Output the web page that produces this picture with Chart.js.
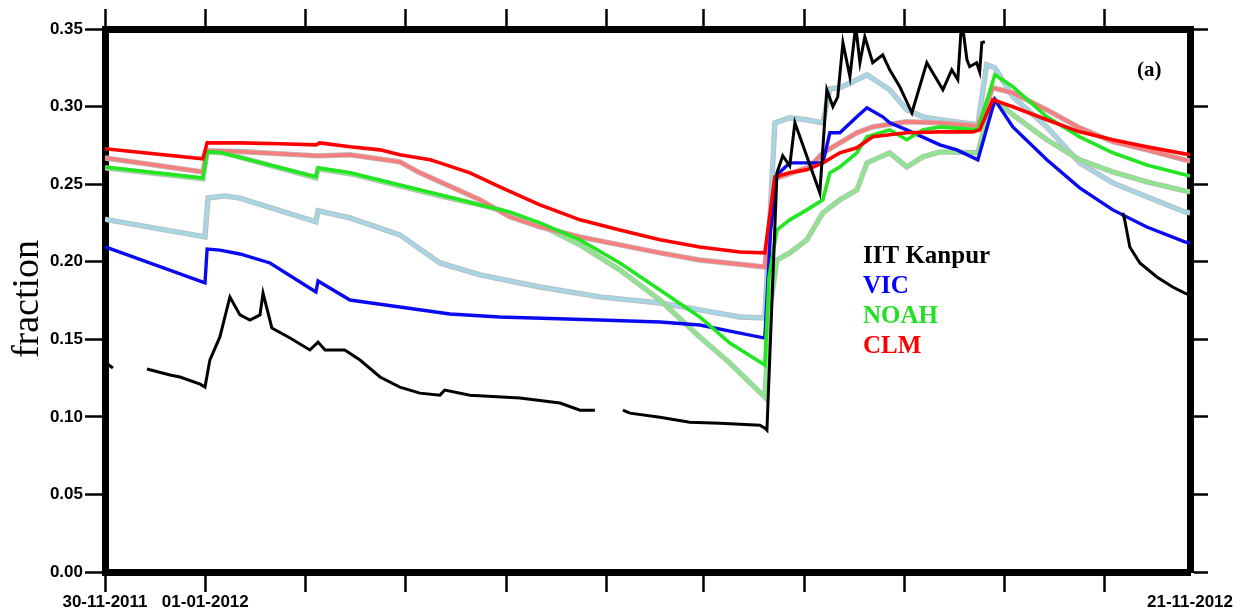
<!DOCTYPE html>
<html>
<head>
<meta charset="utf-8">
<script src="https://cdn.jsdelivr.net/npm/chart.js@4.4.1/dist/chart.umd.min.js"></script>
<style>
  html, body { margin: 0; padding: 0; background: #ffffff; }
  #wrap { width: 1249px; height: 609px; position: relative; }
</style>
</head>
<body>
<div id="wrap"><canvas id="c" width="1249" height="609"></canvas></div>
<script>
// ---- Data (x = days since 30-11-2011, y = soil moisture fraction) ----
const tickDays = [0, 33, 66, 99, 132, 165, 197, 230, 263, 296, 329, 357];
const tickLabels = { 0: '30-11-2011', 33: '01-01-2012', 357: '21-11-2012' };
const yTicks = [0, 0.05, 0.10, 0.15, 0.20, 0.25, 0.30, 0.35];

const obsDays = [0, 2.6, 8, 13.8, 21.4, 24.7, 31.3, 32.9, 34.5, 37.8, 41.1, 44.4, 47.7, 51, 52, 54.9, 60.9, 67.4, 70.1, 72.4, 78.9, 83.9, 90.5, 97, 103.6, 110.2, 111.8, 120.1, 136.5, 149.7, 156.3, 161.2, 165, 170.4, 172.7, 182.6, 192.4, 202.3, 215.5, 217.1, 217.8, 221.1, 223, 225.3, 227, 235.2, 237.5, 239.5, 241.1, 242.8, 245.1, 247, 248.4, 250, 252.6, 255.9, 258.2, 261.5, 265.5, 270.4, 275.7, 278.6, 280.6, 281.9, 283.6, 284.5, 286.8, 287.8, 288.5, 289.5, 310, 334.9, 335.5, 337.2, 340.5, 346.1, 351.3, 355.3, 357];
const obsVals = [0.1353, 0.1315, null, 0.1308, 0.127, 0.1257, 0.1211, 0.1192, 0.1366, 0.1515, 0.1773, 0.1657, 0.1624, 0.1657, 0.1798, 0.1573, 0.1508, 0.1431, 0.1482, 0.1431, 0.1431, 0.1366, 0.1257, 0.1192, 0.1153, 0.114, 0.1173, 0.114, 0.1121, 0.1089, 0.1043, 0.1043, null, 0.1043, 0.1024, 0.0998, 0.0966, 0.0959, 0.0946, 0.0927, 0.0914, 0.2573, 0.2683, 0.2618, 0.2895, 0.2444, 0.3109, 0.300, 0.3063, 0.3412, 0.3192, 0.352, 0.3283, 0.345, 0.3283, 0.3334, 0.3237, 0.3128, 0.296, 0.3283, 0.3108, 0.3237, 0.3173, 0.356, 0.3302, 0.3257, 0.3283, 0.3224, 0.3412, 0.3418, null, 0.2315, 0.227, 0.2095, 0.1992, 0.1902, 0.1837, 0.1798, 0.1785];

const vicDays = [0, 1, 32.9, 33.6, 37.8, 44.4, 54.3, 69.4, 70.1, 80.6, 97, 113.5, 129.9, 162.8, 182.6, 195.7, 208.9, 217.1, 219, 221.1, 225.3, 236.2, 238.5, 241.8, 247.4, 250.7, 255.9, 258.2, 263.8, 274.7, 280.3, 287.2, 292.8, 298.7, 309.9, 320.7, 331.6, 342.8, 355.3, 357];
const vicVals = [0.2095, 0.2089, 0.1863, 0.2082, 0.2075, 0.205, 0.1992, 0.1805, 0.1876, 0.1753, 0.1708, 0.1663, 0.1644, 0.1624, 0.1611, 0.1592, 0.154, 0.1508, 0.22, 0.256, 0.2637, 0.2637, 0.2831, 0.2831, 0.2934, 0.2992, 0.2934, 0.2895, 0.285, 0.2753, 0.2721, 0.2657, 0.3044, 0.2869, 0.2657, 0.2476, 0.2334, 0.2224, 0.2128, 0.212];

const vicLDays = [0, 1, 32.9, 33.9, 39.5, 44.4, 69.4, 70.1, 80.6, 97, 110.2, 123.4, 143.1, 162.8, 182.6, 195.7, 208.9, 217.1, 220.4, 225.3, 230.9, 236.2, 238.5, 241.8, 247.4, 250.7, 258.2, 263.8, 269.1, 274.7, 287.2, 290.1, 292.8, 298.7, 309.9, 320.7, 331.6, 342.8, 355.3, 357];
const vicLVals = [0.2275, 0.227, 0.216, 0.2411, 0.2424, 0.241, 0.2257, 0.2328, 0.2282, 0.2173, 0.1992, 0.1915, 0.1837, 0.1773, 0.1734, 0.1689, 0.1644, 0.1637, 0.2895, 0.2928, 0.2915, 0.2895, 0.3115, 0.3121, 0.3173, 0.3205, 0.3108, 0.2979, 0.2934, 0.2915, 0.2883, 0.327, 0.325, 0.3063, 0.2869, 0.2637, 0.2508, 0.2418, 0.2321, 0.2315];

const noahDays = [0, 32.2, 33.6, 37.8, 69.4, 70.1, 80.6, 97, 110.2, 123.4, 133.2, 143.1, 156.3, 169.4, 182.6, 195.7, 205.6, 217.1, 218.5, 221.1, 225.3, 230.9, 236.2, 238.5, 241.8, 247.4, 250.7, 258.2, 263.8, 269.1, 274.7, 287.2, 292.8, 298.7, 309.9, 320.7, 331.6, 342.8, 355.3, 357];
const noahVals = [0.2611, 0.254, 0.2708, 0.2705, 0.2547, 0.2605, 0.2573, 0.2495, 0.2431, 0.2366, 0.2321, 0.225, 0.2141, 0.1992, 0.1818, 0.1644, 0.1476, 0.1334, 0.19, 0.2205, 0.227, 0.2334, 0.2399, 0.2573, 0.2611, 0.2702, 0.2805, 0.285, 0.2786, 0.285, 0.2869, 0.285, 0.3205, 0.3128, 0.2934, 0.2805, 0.2702, 0.2624, 0.256, 0.2553];

const noahLDays = [0, 32.2, 33.6, 39.5, 69.4, 70.1, 80.6, 97, 110.2, 123.4, 129.9, 143.1, 156.3, 169.4, 182.6, 195.7, 205.6, 217.1, 218.8, 221.1, 225.3, 230.9, 236.2, 241.8, 247.4, 250.7, 258.2, 263.8, 269.1, 274.7, 287.2, 290.1, 292.8, 298.7, 309.9, 320.7, 331.6, 342.8, 355.3, 357];
const noahLVals = [0.2605, 0.2534, 0.2708, 0.27, 0.254, 0.2598, 0.2567, 0.2489, 0.2425, 0.2366, 0.2334, 0.2237, 0.2108, 0.1947, 0.1753, 0.1515, 0.1347, 0.1127, 0.17, 0.2011, 0.2057, 0.2141, 0.2315, 0.2399, 0.2463, 0.2637, 0.2702, 0.2611, 0.2676, 0.2708, 0.2702, 0.2915, 0.3044, 0.2947, 0.2786, 0.2657, 0.2579, 0.2515, 0.2456, 0.245];

const clmDays = [0, 32.2, 33.6, 44.4, 57.6, 69.4, 70.7, 80.6, 90.5, 97, 107, 110.2, 120.1, 129.9, 143.1, 156.3, 169.4, 182.6, 195.7, 208.9, 217.1, 220.4, 225.3, 230.9, 236.2, 241.8, 247.4, 252.6, 258.2, 263.8, 274.7, 285.5, 287.8, 292.1, 298.7, 309.9, 320.7, 331.6, 342.8, 355.3, 357];
const clmVals = [0.2728, 0.2663, 0.2766, 0.2766, 0.276, 0.2753, 0.2766, 0.2741, 0.2721, 0.2689, 0.2657, 0.2637, 0.2573, 0.2482, 0.2366, 0.227, 0.2205, 0.2141, 0.2095, 0.2063, 0.2057, 0.2547, 0.2573, 0.2592, 0.2637, 0.2702, 0.2734, 0.2805, 0.2818, 0.2831, 0.2837, 0.2837, 0.285, 0.3044, 0.2999, 0.2915, 0.2837, 0.2786, 0.2741, 0.2695, 0.2689];

const clmLDays = [0, 32.2, 33.6, 44.4, 70.1, 80.6, 97, 103.6, 110.2, 123.4, 133.2, 143.1, 156.3, 169.4, 182.6, 195.7, 217.1, 220.4, 221.1, 231.9, 236.2, 241.8, 247.4, 252.6, 263.8, 274.7, 287.2, 292.1, 298.7, 309.9, 320.7, 331.6, 342.8, 355.3, 357];
const clmLVals = [0.2669, 0.2579, 0.2715, 0.271, 0.2682, 0.2689, 0.2644, 0.2573, 0.2515, 0.2399, 0.2289, 0.2224, 0.216, 0.2108, 0.2057, 0.2011, 0.1966, 0.2528, 0.254, 0.2611, 0.2702, 0.2766, 0.2831, 0.2869, 0.2902, 0.2895, 0.2876, 0.3121, 0.3089, 0.2979, 0.2863, 0.2773, 0.2721, 0.2657, 0.265];

const legendNames = ['IIT Kanpur', 'VIC', 'NOAH', 'CLM'];
const legendColors = ['#000000', '#0000ff', '#22e022', '#ff0000'];

// ---- build ----
const pts = (xs, ys) => xs.map((x, i) => ({ x: x, y: ys[i] }));
function ds(xs, ys, color, width) {
  return { data: pts(xs, ys), borderColor: color, borderWidth: width, pointRadius: 0, tension: 0, spanGaps: false, fill: false };
}
const OUT = '#bcbcbc';
// Chart.js paints dataset 0 last (on top)
const datasets = [
  ds(obsDays, obsVals, '#000000', 3),
  ds(clmDays, clmVals, '#ff0000', 3.6),
  ds(noahDays, noahVals, '#22e622', 3.6),
  ds(vicDays, vicVals, '#0a0af0', 3.4),
  ds(clmLDays, clmLVals, '#f77f7f', 3.8),
  ds(clmLDays, clmLVals, OUT, 5.4),
  ds(noahLDays, noahLVals, '#8fe48f', 3.8),
  ds(noahLDays, noahLVals, OUT, 5.4),
  ds(vicLDays, vicLVals, '#a6d5e3', 3.8),
  ds(vicLDays, vicLVals, OUT, 5.4)
];

const textPlugin = {
  id: 'texts',
  afterDraw(chart) {
    const ctx = chart.ctx;
    ctx.save();
    ctx.textAlign = 'left';
    ctx.textBaseline = 'alphabetic';
    ctx.font = 'bold 25px "Liberation Serif", "Times New Roman", serif';
    const base = [263, 293, 323, 353];
    legendNames.forEach((n, i) => { ctx.fillStyle = legendColors[i]; ctx.fillText(n, 863, base[i]); });
    ctx.fillStyle = '#000';
    ctx.font = 'bold 21px "Liberation Serif", "Times New Roman", serif';
    ctx.fillText('(a)', 1137, 76);
    ctx.translate(38, 299);
    ctx.rotate(-Math.PI / 2);
    ctx.textAlign = 'center';
    ctx.font = '38px "Liberation Serif", "Times New Roman", serif';
    ctx.fillText('fraction', 0, 0);
    ctx.restore();
  }
};

const hideEnd = ctx => (ctx.tick && ctx.tick.value === 357) ? 'rgba(0,0,0,0)' : '#000';
const yFont = { family: '"Liberation Sans", Arial, sans-serif', weight: 'bold', size: 17 };
const xFont = { family: '"Liberation Sans", Arial, sans-serif', weight: 'bold', size: 17 };

new Chart(document.getElementById('c'), {
  type: 'line',
  data: { datasets: datasets },
  plugins: [textPlugin],
  options: {
    responsive: false,
    animation: false,
    events: [],
    layout: { padding: 0 },
    plugins: { legend: { display: false }, tooltip: { enabled: false } },
    scales: {
      x: {
        type: 'linear', position: 'bottom', min: 0, max: 357,
        afterBuildTicks: s => { s.ticks = tickDays.map(v => ({ value: v })); },
        afterFit: s => { s.height = 37; },
        ticks: { autoSkip: false, maxRotation: 0, minRotation: 0, padding: 0, color: '#000', font: xFont,
          callback: v => tickLabels[v] || '' },
        grid: { drawOnChartArea: false, drawTicks: true, tickLength: 20, tickWidth: 2.5, tickColor: hideEnd, color: '#000' },
        border: { display: true, width: 7, color: '#000' }
      },
      x2: {
        type: 'linear', position: 'top', min: 0, max: 357,
        afterBuildTicks: s => { s.ticks = tickDays.map(v => ({ value: v })); },
        afterFit: s => { s.height = 29; },
        ticks: { display: false },
        grid: { drawOnChartArea: false, drawTicks: true, tickLength: 20, tickWidth: 2.5, tickColor: hideEnd, color: '#000' },
        border: { display: true, width: 7, color: '#000' }
      },
      y: {
        type: 'linear', position: 'left', min: 0, max: 0.35,
        afterBuildTicks: s => { s.ticks = yTicks.map(v => ({ value: v })); },
        afterFit: s => { s.width = 105; },
        ticks: { padding: 2, color: '#000', font: yFont, callback: v => v.toFixed(2) },
        grid: { drawOnChartArea: false, drawTicks: true, tickLength: 20, tickWidth: 2.5, tickColor: '#000', color: '#000' },
        border: { display: true, width: 7, color: '#000' }
      },
      y2: {
        type: 'linear', position: 'right', min: 0, max: 0.35,
        afterBuildTicks: s => { s.ticks = yTicks.map(v => ({ value: v })); },
        afterFit: s => { s.width = 59; },
        ticks: { display: false },
        grid: { drawOnChartArea: false, drawTicks: true, tickLength: 18, tickWidth: 2.5, tickColor: '#000', color: '#000' },
        border: { display: true, width: 7, color: '#000' }
      }
    }
  }
});
</script>
</body>
</html>
